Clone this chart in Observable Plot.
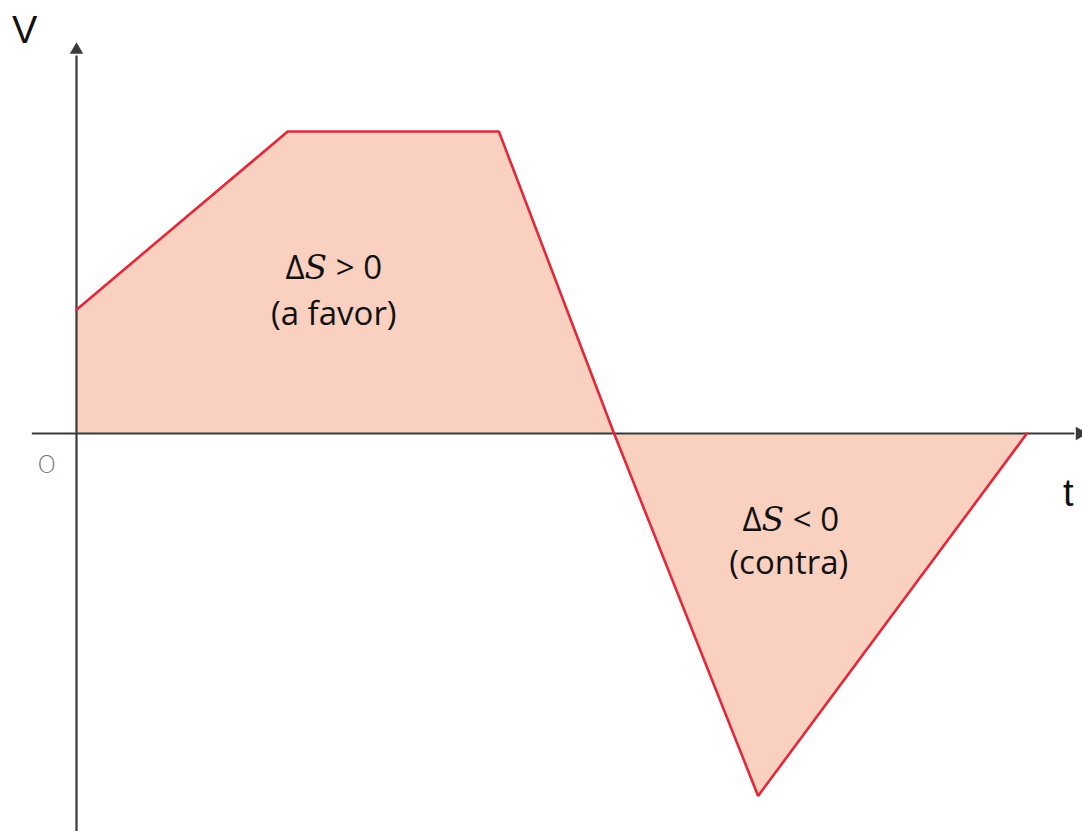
<!DOCTYPE html>
<html><head><meta charset="utf-8">
<script src="https://cdn.jsdelivr.net/npm/d3@7"></script>
<script src="https://cdn.jsdelivr.net/npm/@observablehq/plot@0.6"></script>
<style>html,body{margin:0;padding:0;background:#fff;overflow:hidden}</style>
</head><body><div id="chart"></div>
<script>
// velocity–time data
const times = [0, 2.2, 4.4, 5.6, 7.1, 9.9];
const velocities = [4.1, 10, 10, 0, -12, 0];

// region annotations
const regionLabels = ["ΔS > 0", "(a favor)", "ΔS < 0", "(contra)"];
const labelT = [2.68, 2.68, 7.44, 7.42];
const labelV = [5.46, 3.94, -2.88, -4.3];

// axis names
const axisNames = ["V", "t", "O"];
const axisNameT = [-0.54, 10.33, -0.31];
const axisNameV = [13.35, -2.0, -1.06];

// axis extents
const xAxisT = [-0.46, 10.4];
const yAxisV = [-13.2, 12.5];

const series = times.map((t, i) => ({t, v: velocities[i]}));
const labels = regionLabels.map((s, i) => ({s, t: labelT[i], v: labelV[i]}));
const names = axisNames.map((s, i) => ({s, t: axisNameT[i], v: axisNameV[i]}));

const axisColor = "#3a3a3a";
const plot = Plot.plot({
  width: 1082, height: 831,
  margin: 0,
  x: {domain: [0, 10], range: [76, 1036], axis: null},
  y: {domain: [0, 10], range: [433, 131], axis: null},
  style: {background: "#fff"},
  marks: [
    Plot.areaY(series, {x: "t", y: "v", fill: "#fad0c0", curve: "linear"}),
    Plot.ruleY([0], {x1: xAxisT[0], x2: xAxisT[1], stroke: axisColor, strokeWidth: 2.2}),
    Plot.ruleX([0], {y1: yAxisV[0], y2: yAxisV[1], stroke: axisColor, strokeWidth: 2.2}),
    Plot.dot([{t: 10.45, v: 0}], {x: "t", y: "v", symbol: "triangle", r: 5, fill: axisColor, stroke: "none", rotate: 90}),
    Plot.dot([{t: 0, v: 12.7}], {x: "t", y: "v", symbol: "triangle", r: 5, fill: axisColor, stroke: "none", rotate: 0}),
    Plot.line(series, {x: "t", y: "v", stroke: "#e3283a", strokeWidth: 2.6, strokeLinejoin: "miter"}),
    Plot.text(labels, {x: "t", y: "v", text: "s", fontSize: 33, fill: "#111", fontFamily: "'Open Sans', sans-serif"}),
    Plot.text(names.slice(0, 2), {x: "t", y: "v", text: "s", fontSize: 38, fill: "#111", fontFamily: "'Liberation Sans', Arial, sans-serif"}),
    Plot.text(names.slice(2), {x: "t", y: "v", text: "s", fontSize: 24, fill: "#777", fontFamily: "'DejaVu Sans', sans-serif", fontWeight: 300})
  ]
});
// italic S in ΔS
plot.querySelectorAll("text, tspan").forEach(el => {
  if (el.children.length === 0 && el.textContent.startsWith("ΔS")) {
    const rest = el.textContent.slice(2);
    el.textContent = "Δ";
    const s = document.createElementNS("http://www.w3.org/2000/svg", "tspan");
    s.setAttribute("font-style", "italic");
    s.setAttribute("font-family", "'DejaVu Serif', serif");
    s.textContent = "S";
    el.appendChild(s);
    el.appendChild(document.createTextNode(rest));
  }
});
document.getElementById("chart").appendChild(plot);
</script>
</body></html>
